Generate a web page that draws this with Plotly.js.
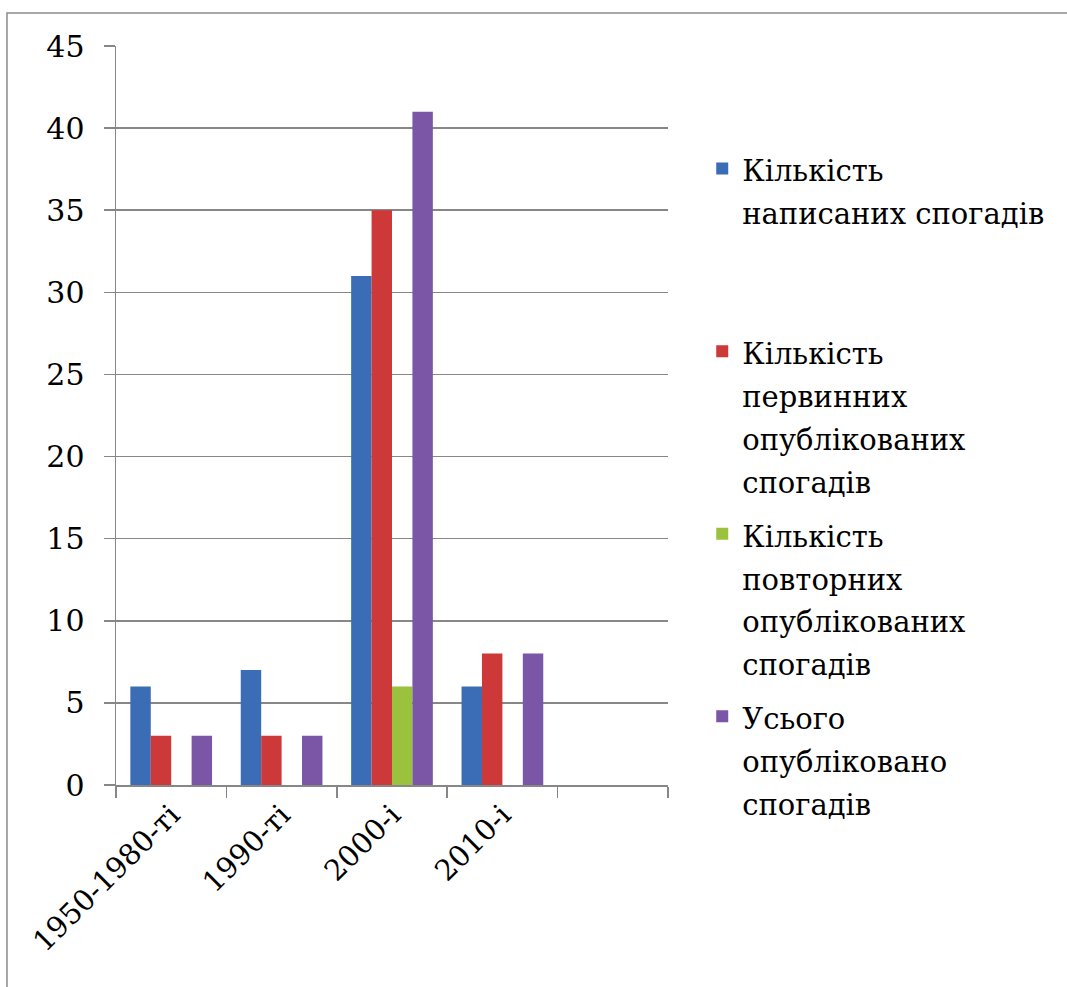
<!DOCTYPE html>
<html>
<head>
<meta charset="utf-8">
<script src="https://cdn.plot.ly/plotly-3.0.1.min.js"></script>
<style>html,body{margin:0;padding:0;background:#fff;}#chart{width:1067px;height:987px;}</style>
</head>
<body>
<div id="chart"></div>
<script>
const categories = ["1950-1980-ті", "1990-ті", "2000-і", "2010-і", " "];
const writtenMemoirs = [6, 7, 31, 6];
const firstPublished = [3, 3, 35, 8];
const republished = [0, 0, 6, 0];
const totalPublished = [3, 3, 41, 8];
const seriesNameLines = [
  ["Кількість", "написаних спогадів", " ", " "],
  ["Кількість", "первинних", "опублікованих", "спогадів"],
  ["Кількість", "повторних", "опублікованих", "спогадів"],
  ["Усього", "опубліковано", "спогадів"]
];
const seriesColors = ["#3a6db5", "#cd3838", "#9ac23f", "#7b55a6"];
const seriesValues = [writtenMemoirs, firstPublished, republished, totalPublished];

const legendTextSize = 29;
const wrapName = lines => lines.map(l => '<span style="font-size:' + legendTextSize + 'px">' + l + '</span>').join("<br>");

const xs = categories.slice(0, 4);
const traces = seriesValues.map((vals, i) => ({
  type: "bar",
  x: xs,
  y: vals,
  name: wrapName(seriesNameLines[i]),
  legendgroup: "g" + i,
  marker: {color: seriesColors[i], line: {width: 0}},
  hoverinfo: "x+y"
}));

const serif = "DejaVu Serif, serif";
const layout = {
  width: 1067,
  height: 987,
  margin: {l: 116, r: 399, t: 46, b: 202, pad: 0},
  paper_bgcolor: "#fff",
  plot_bgcolor: "#fff",
  barmode: "group",
  bargap: 0.26,
  bargroupgap: 0,
  font: {family: serif, size: 30, color: "#000"},
  xaxis: {
    type: "category",
    categoryorder: "array",
    categoryarray: categories,
    range: [-0.5, 4.5],
    tickson: "boundaries",
    ticks: "outside",
    ticklen: 11,
    tickwidth: 1.5,
    tickcolor: "#878787",
    showline: true,
    linecolor: "#878787",
    linewidth: 1.5,
    showgrid: false,
    tickangle: -45,
    tickfont: {family: serif, size: 29, color: "#000"}
  },
  yaxis: {
    range: [0, 45],
    dtick: 5,
    tick0: 0,
    ticks: "outside",
    ticklen: 11,
    tickwidth: 1.5,
    tickcolor: "#878787",
    showline: true,
    linecolor: "#878787",
    linewidth: 1.5,
    showgrid: true,
    gridcolor: "#878787",
    gridwidth: 1.5,
    zeroline: false,
    ticklabelstandoff: 13,
    tickfont: {family: serif, size: 30, color: "#000"}
  },
  legend: {
    x: 1.062,
    xanchor: "left",
    y: 0.872,
    yanchor: "top",
    valign: "top",
    tracegroupgap: 8,
    font: {family: serif, size: 33, color: "#000"},
    bgcolor: "rgba(0,0,0,0)"
  },
  shapes: [{
    type: "rect", xref: "paper", yref: "paper",
    x0: -0.1975, x1: 1.80, y0: -0.32, y1: 1.0447,
    line: {color: "#8a8a8a", width: 1.5}, fillcolor: "rgba(0,0,0,0)", layer: "below"
  }]
};

Plotly.newPlot("chart", traces, layout, {displayModeBar: false, staticPlot: true});
</script>
</body>
</html>
